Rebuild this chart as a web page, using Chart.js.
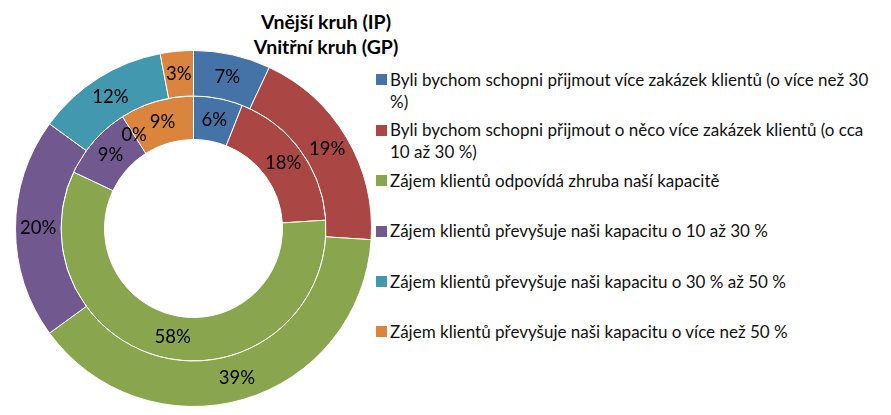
<!DOCTYPE html>
<html>
<head>
<meta charset="utf-8">
<script src="https://cdn.jsdelivr.net/npm/chart.js@4.4.0/dist/chart.umd.min.js"></script>
<style>
  html, body { margin: 0; padding: 0; background: #fff; }
  #wrap { position: relative; width: 891px; height: 415px; overflow: hidden; font-family: Lato, "Open Sans", sans-serif; }
  #chartBox { position: absolute; left: 15px; top: 50px; width: 357px; height: 357px; }
  .title { position: absolute; left: 226px; width: 200px; text-align: center; font-weight: bold; font-size: 19.5px; line-height: 25px; color: #000; white-space: nowrap; }
  .leg { position: absolute; left: 390px; font-size: 17px; line-height: 22px; color: #111; white-space: nowrap; }
  .mk { position: absolute; left: 376px; width: 11px; height: 11px; }
</style>
</head>
<body>
<div id="wrap">
  <div class="title" id="t1" style="top:8.5px"></div>
  <div class="title" id="t2" style="top:33.5px"></div>
  <div id="chartBox"><canvas id="c" width="357" height="357"></canvas></div>
  <div id="legend"></div>
</div>
<script>
const titleLines = ["Vnější kruh (IP)", "Vnitřní kruh (GP)"];
const categories = [
  ["Byli bychom schopni přijmout více zakázek klientů (o více než 30", "%)"],
  ["Byli bychom schopni přijmout o něco více zakázek klientů (o cca", "10 až 30 %)"],
  ["Zájem klientů odpovídá zhruba naší kapacitě"],
  ["Zájem klientů převyšuje naši kapacitu o 10 až 30 %"],
  ["Zájem klientů převyšuje naši kapacitu o 30 % až 50 %"],
  ["Zájem klientů převyšuje naši kapacitu o více než 50 %"]
];
const outerIP = [7, 19, 39, 20, 12, 3];
const innerGP = [6, 18, 58, 9, 0, 9];
const colors = ["#4572A7", "#AA4643", "#89A54E", "#71588F", "#4198AF", "#DB843D"];
const legendCenters = [79.5, 130, 180.7, 231.2, 281.5, 331.5];

document.getElementById('t1').textContent = titleLines[0];
document.getElementById('t2').textContent = titleLines[1];

const legendEl = document.getElementById('legend');
categories.forEach((lines, i) => {
  const mk = document.createElement('div');
  mk.className = 'mk';
  mk.style.background = colors[i];
  mk.style.top = (legendCenters[i] - 5.5) + 'px';
  legendEl.appendChild(mk);
  const d = document.createElement('div');
  d.className = 'leg';
  d.style.top = (legendCenters[i] - 11) + 'px';
  lines.forEach((ln, k) => {
    if (k) d.appendChild(document.createElement('br'));
    d.appendChild(document.createTextNode(ln));
  });
  legendEl.appendChild(d);
});

const labelPlugin = {
  id: 'pctLabels',
  afterDatasetsDraw(chart) {
    const ctx = chart.ctx;
    ctx.save();
    ctx.font = '18.5px Lato, "Open Sans", sans-serif';
    ctx.fillStyle = '#000';
    ctx.textAlign = 'center';
    ctx.textBaseline = 'middle';
    chart.data.datasets.forEach((ds, di) => {
      const meta = chart.getDatasetMeta(di);
      meta.data.forEach((arc, i) => {
        const p = arc.tooltipPosition();
        ctx.fillText(ds.data[i] + '%', p.x, p.y);
      });
    });
    ctx.restore();
  }
};

new Chart(document.getElementById('c'), {
  type: 'doughnut',
  data: {
    labels: categories.map(l => l.join(' ')),
    datasets: [
      { label: 'IP', data: outerIP, backgroundColor: colors, borderColor: '#ffffff', borderWidth: 1, weight: 45.5 },
      { label: 'GP', data: innerGP, backgroundColor: colors, borderColor: '#ffffff', borderWidth: 1, weight: 43.5 }
    ]
  },
  options: {
    responsive: false,
    animation: false,
    cutout: '50%',
    layout: { padding: 0 },
    plugins: { legend: { display: false }, title: { display: false }, tooltip: { enabled: false } }
  },
  plugins: [labelPlugin]
});
</script>
</body>
</html>
